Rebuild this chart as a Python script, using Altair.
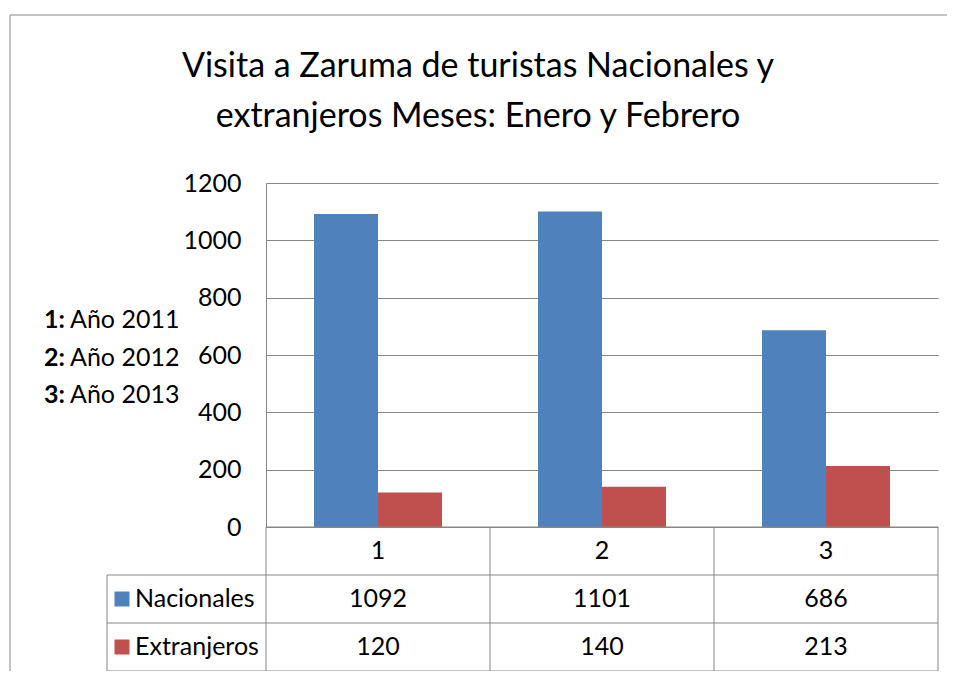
import altair as alt
import pandas as pd

# ---------------- data ----------------
years = ["1", "2", "3"]
year_names = ["Año 2011", "Año 2012", "Año 2013"]
series = ["Nacionales", "Extranjeros"]
nacionales = [1092, 1101, 686]
extranjeros = [120, 140, 213]
colors = ["#4F81BD", "#C0504D"]
y_ticks = [0, 200, 400, 600, 800, 1000, 1200]
title_lines = ["Visita a Zaruma de turistas Nacionales y",
               "extranjeros Meses: Enero y Febrero"]

# ---------------- layout ----------------
FONT = "Lato, sans-serif"
W, H = 672, 488          # plot area: bars + data table
BAR_H = 344              # height of the bar region
LBL = -159 / 224         # left edge of the label column, in column units
GRID = "#868686"

rows = []
for s, vals in zip(series, [nacionales, extranjeros]):
    for y, v in zip(years, vals):
        rows.append({"year": y, "serie": s, "value": v})
bars_df = pd.DataFrame(rows)

bars = alt.Chart(bars_df).mark_bar().encode(
    x=alt.X("year:N", scale=alt.Scale(domain=years, paddingInner=0.4286, paddingOuter=0.2143), axis=None),
    xOffset=alt.XOffset("serie:N", scale=alt.Scale(domain=series, paddingInner=0, paddingOuter=0)),
    y=alt.Y("value:Q",
            scale=alt.Scale(domain=[0, 1200], range=[BAR_H, 0], nice=False),
            axis=alt.Axis(values=y_ticks, format="d", grid=True, ticks=False, title=None,
                          labelFont=FONT, labelFontSize=25, labelColor="black",
                          labelPadding=25, domainColor=GRID, gridColor=GRID,
                          gridOpacity=1, labelFlush=False)),
    color=alt.Color("serie:N", scale=alt.Scale(domain=series, range=colors), legend=None),
)

# ---------------- data table ----------------
xcol = alt.Scale(domain=[0, 3], range=[0, W], nice=False, zero=False)
yrow = alt.Scale(domain=[0, 3], range=[BAR_H, H], nice=False, zero=False)

cells = []
for i, y in enumerate(years):
    cells.append({"col": i + 0.5, "row": 0.5, "text": y})
for r, vals in enumerate([nacionales, extranjeros]):
    for i, v in enumerate(vals):
        cells.append({"col": i + 0.5, "row": r + 1.5, "text": str(v)})
cells_df = pd.DataFrame(cells)

cell_text = alt.Chart(cells_df).mark_text(font=FONT, fontSize=25, color="black", baseline="middle").encode(
    x=alt.X("col:Q", scale=xcol, axis=None),
    y=alt.Y("row:Q", scale=yrow, axis=None),
    text="text:N",
)

lines = [
    (0, 3, 0, 0), (LBL, 3, 1, 1), (LBL, 3, 2, 2), (LBL, 3, 3, 3),
    (LBL, LBL, 1, 3), (0, 0, 0, 3), (1, 1, 0, 3), (2, 2, 0, 3), (3, 3, 0, 3),
]
lines_df = pd.DataFrame(lines, columns=["x", "x2", "y", "y2"])
table_lines = alt.Chart(lines_df).mark_rule(color=GRID, strokeWidth=1).encode(
    x=alt.X("x:Q", scale=xcol, axis=None), x2="x2:Q",
    y=alt.Y("y:Q", scale=yrow, axis=None), y2="y2:Q",
)

lab_df = pd.DataFrame({"serie": series, "row": [1.5, 2.5], "x": [LBL, LBL]})
row_labels = alt.Chart(lab_df).mark_text(font=FONT, fontSize=25, color="black", align="left",
                                          baseline="middle", dx=28).encode(
    x=alt.X("x:Q", scale=xcol, axis=None),
    y=alt.Y("row:Q", scale=yrow, axis=None),
    text="serie:N",
)
row_keys = alt.Chart(lab_df).mark_square(size=225, opacity=1, xOffset=15).encode(
    x=alt.X("x:Q", scale=xcol, axis=None),
    y=alt.Y("row:Q", scale=yrow, axis=None),
    color=alt.Color("serie:N", scale=alt.Scale(domain=series, range=colors), legend=None),
)

# ---------------- side note ----------------
note_df = pd.DataFrame({"key": [k + ":" for k in years], "name": year_names})
note_y = alt.Y("key:O", scale=alt.Scale(domain=[k + ":" for k in years], range=[137, 212], padding=0), axis=None)
note_key = alt.Chart(note_df).mark_text(font=FONT, fontSize=25, fontWeight="bold", color="black",
                                        align="left", baseline="middle").encode(
    x=alt.value(-222), y=note_y, text="key:N")
note_name = alt.Chart(note_df).mark_text(font=FONT, fontSize=25, color="black",
                                         align="left", baseline="middle").encode(
    x=alt.value(-196), y=note_y, text="name:N")

# ---------------- title ----------------
title_df = pd.DataFrame({"line": title_lines})
title = alt.Chart(title_df).mark_text(font=FONT, fontSize=34, color="black",
                                      align="center", baseline="alphabetic").encode(
    x=alt.value(212),
    y=alt.Y("line:O", scale=alt.Scale(domain=title_lines, range=[-106, -56], padding=0), axis=None),
    text="line:N",
)

# ---------------- outer frame ----------------
one = pd.DataFrame({"a": [0]})
frame_top = alt.Chart(one).mark_rule(color=GRID, strokeWidth=1).encode(
    x=alt.value(-256), x2=alt.value(W + 20), y=alt.value(-168))
frame_left = alt.Chart(one).mark_rule(color=GRID, strokeWidth=1).encode(
    x=alt.value(-256), y=alt.value(-168), y2=alt.value(H + 20))

chart = alt.layer(
    frame_top, frame_left, title, bars, table_lines, cell_text, row_labels, row_keys, note_key, note_name
).resolve_scale(
    x="independent", y="independent", color="independent"
).properties(
    width=W, height=H,
    autosize=alt.AutoSizeParams(type="none"),
    padding={"left": 258, "top": 175, "right": 9, "bottom": 0},
).configure_view(stroke=None)

chart.save("out.html", embed_options={"renderer": "svg", "actions": False})
